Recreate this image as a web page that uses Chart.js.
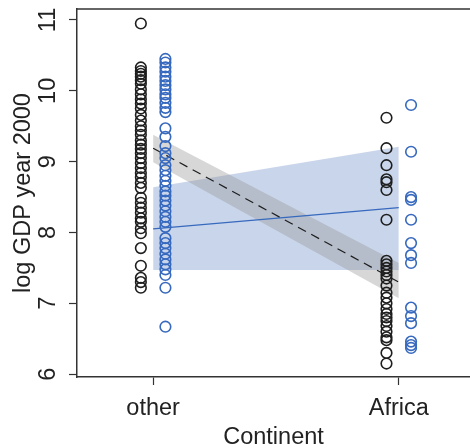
<!DOCTYPE html>
<html>
<head>
<meta charset="utf-8">
<script src="https://cdn.jsdelivr.net/npm/chart.js@4"></script>
<style>
  body { margin: 0; background: #fff; }
  #wrap { width: 470px; height: 448px; }
</style>
</head>
<body>
<div id="wrap"><canvas id="myGrafico" width="470" height="448"></canvas></div>
<script>
// categorias e ticks
const categorias = ['other', 'Africa'];
const ticksY = [6, 7, 8, 9, 10, 11];

// valores (log GDP year 2000)
const outrosPretos = [10.95, 10.33, 10.28, 10.24, 10.2, 10.15, 10.1, 10.02, 9.95, 9.88, 9.82, 9.75, 9.66, 9.58, 9.5, 9.44, 9.38, 9.3, 9.24, 9.18, 9.12, 9.05, 8.98, 8.91, 8.84, 8.78, 8.7, 8.63, 8.49, 8.42, 8.35, 8.28, 8.2, 8.15, 8.06, 7.99, 7.78, 7.53, 7.36, 7.3, 7.22];
const outrosAzuis = [10.45, 10.4, 10.33, 10.27, 10.2, 10.14, 10.08, 10.02, 9.95, 9.9, 9.83, 9.76, 9.7, 9.47, 9.35, 9.22, 9.12, 9.05, 8.95, 8.88, 8.8, 8.73, 8.66, 8.58, 8.52, 8.45, 8.38, 8.3, 8.22, 8.15, 8.08, 7.92, 7.85, 7.78, 7.7, 7.62, 7.55, 7.48, 7.4, 7.22, 6.67];
const africaPretos = [9.62, 9.19, 8.95, 8.75, 8.71, 8.6, 8.18, 7.6, 7.55, 7.5, 7.45, 7.4, 7.35, 7.25, 7.15, 7.08, 7.0, 6.92, 6.85, 6.8, 6.75, 6.68, 6.6, 6.52, 6.48, 6.3, 6.15];
const africaAzuis = [9.8, 9.14, 8.5, 8.46, 8.18, 7.85, 7.68, 7.57, 6.94, 6.82, 6.72, 6.46, 6.41, 6.37];

// retas ajustadas e bandas [other, Africa]
const ajustePreto = [9.19, 7.30];
const bandaPretaSup = [9.38, 7.57];
const bandaPretaInf = [8.99, 7.07];
const ajusteAzul = [8.05, 8.35];
const bandaAzulSup = [8.64, 9.21];
const bandaAzulInf = [7.47, 7.47];

const desloc = 0.05;
const preto = 'rgb(30,30,30)';
const azul = 'rgb(55,105,190)';
const fonte = 'Liberation Sans, Arial, Helvetica, sans-serif';

function pontos(vals, x) {
    return vals.map(v => ({ x: x, y: v }));
}
function reta(vals) {
    return vals.map((v, i) => ({ x: i, y: v }));
}

// tira o espaco extra que o Chart.js reserva para os rotulos
function semPadding(ax) {
    ax.paddingTop = 0;
    ax.paddingBottom = 0;
    ax.paddingLeft = 0;
    ax.paddingRight = 0;
}

// linha de cima da caixa
const bordaTopo = {
    id: 'bordaTopo',
    afterDraw(chart) {
        const a = chart.chartArea;
        const c = chart.ctx;
        c.save();
        c.strokeStyle = '#333';
        c.lineWidth = 1.5;
        c.beginPath();
        c.moveTo(a.left, a.top);
        c.lineTo(a.right, a.top);
        c.stroke();
        c.restore();
    }
};

const ctx = document.getElementById('myGrafico');

new Chart(ctx, {
    type: 'scatter',
    data: {
        datasets: [{
            data: pontos(outrosPretos, 0 - desloc).concat(pontos(africaPretos, 1 - desloc)),
            borderColor: preto,
            backgroundColor: 'rgba(0,0,0,0)',
            borderWidth: 1.6,
            pointRadius: 5.3,
            order: 0
        }, {
            data: pontos(outrosAzuis, 0 + desloc).concat(pontos(africaAzuis, 1 + desloc)),
            borderColor: azul,
            backgroundColor: 'rgba(0,0,0,0)',
            borderWidth: 1.6,
            pointRadius: 5.3,
            order: 0
        }, {
            type: 'line',
            data: reta(ajustePreto),
            borderColor: preto,
            borderWidth: 1.2,
            borderDash: [9, 6],
            pointRadius: 0,
            fill: false,
            order: 1
        }, {
            type: 'line',
            data: reta(ajusteAzul),
            borderColor: azul,
            borderWidth: 1.2,
            pointRadius: 0,
            fill: false,
            order: 1
        }, {
            type: 'line',
            data: reta(bandaPretaSup),
            borderWidth: 0,
            pointRadius: 0,
            backgroundColor: 'rgba(150,150,150,0.38)',
            fill: '+1',
            order: 2
        }, {
            type: 'line',
            data: reta(bandaPretaInf),
            borderWidth: 0,
            pointRadius: 0,
            fill: false,
            order: 2
        }, {
            type: 'line',
            data: reta(bandaAzulSup),
            borderWidth: 0,
            pointRadius: 0,
            backgroundColor: 'rgba(140,165,210,0.47)',
            fill: '+1',
            order: 3
        }, {
            type: 'line',
            data: reta(bandaAzulInf),
            borderWidth: 0,
            pointRadius: 0,
            fill: false,
            order: 3
        }]
    },
    options: {
        responsive: false,
        animation: false,
        layout: { autoPadding: false, padding: { top: 9, right: 0, left: 0, bottom: 0 } },
        plugins: {
            legend: { display: false },
            tooltip: { enabled: false }
        },
        scales: {
            x: {
                type: 'linear',
                min: -0.31,
                max: 1.29,
                afterBuildTicks: ax => { ax.ticks = categorias.map((c, i) => ({ value: i })); },
                afterFit: ax => { ax.height = 71; semPadding(ax); },
                ticks: {
                    callback: v => categorias[v],
                    color: '#222',
                    font: { family: fonte, size: 23.5 },
                    padding: 9
                },
                grid: { drawOnChartArea: false, tickLength: 8, color: '#333', tickWidth: 1.2 },
                border: { display: true, color: '#333', width: 1.5 },
                title: {
                    display: true,
                    text: 'Continent',
                    color: '#222',
                    font: { family: fonte, size: 23.5, lineHeight: 0.9 },
                    padding: 0
                }
            },
            y: {
                min: 5.96,
                max: 11.155,
                afterBuildTicks: ax => { ax.ticks = ticksY.map(v => ({ value: v })); },
                afterFit: ax => { ax.width = 77; semPadding(ax); },
                ticks: {
                    color: '#222',
                    font: { family: fonte, size: 23.5 },
                    minRotation: 90,
                    maxRotation: 90,
                    crossAlign: 'center',
                    padding: 7
                },
                grid: { drawOnChartArea: false, tickLength: 8, color: '#333', tickWidth: 1.2 },
                border: { display: true, color: '#333', width: 1.5 },
                title: {
                    display: true,
                    text: 'log GDP year 2000',
                    color: '#222',
                    font: { family: fonte, size: 23.5, lineHeight: 1.0 },
                    padding: { top: 12, bottom: 0 }
                }
            }
        }
    },
    plugins: [bordaTopo]
});
</script>
</body>
</html>
